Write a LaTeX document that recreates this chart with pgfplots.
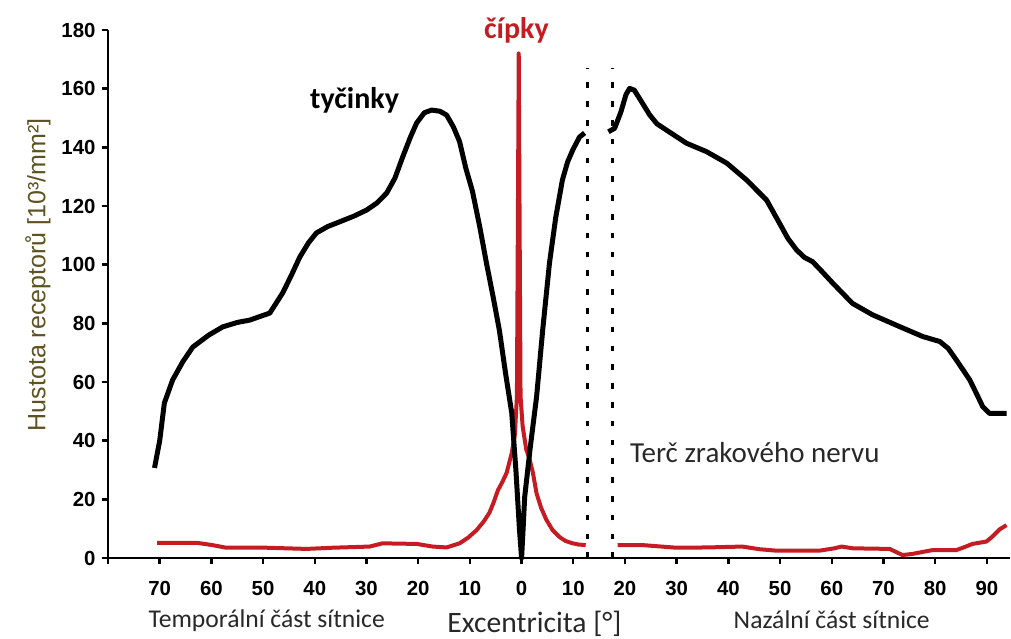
\documentclass[border=0pt]{standalone}
\usepackage{pgfplots}
\pgfplotsset{compat=1.18}
\usepackage{fontspec}
\setmainfont{Liberation Sans}
\newfontfamily\calib{Carlito}
\definecolor{conered}{RGB}{196,28,34}
\definecolor{ylab}{RGB}{92,82,34}
\definecolor{txtgray}{RGB}{40,40,40}
\begin{document}
\begin{tikzpicture}
\path[use as bounding box] (-54pt,-40pt) rectangle (451.5pt,279pt);
\begin{axis}[
  scale only axis,
  width=450.8pt, height=264pt,
  xmin=-80, xmax=94.4, ymin=0, ymax=180,
  axis x line*=bottom, axis y line*=left,
  axis line style={-, line width=1.3pt},
  xtick={-80,-70,...,90},
  xticklabels={,70,60,50,40,30,20,10,0,10,20,30,40,50,60,70,80,90},
  ytick={0,20,...,180},
  tick align=outside,
  major tick length=3.2pt,
  tick style={line width=1.2pt, black},
  /pgf/number format/assume math mode=true,
  ticklabel style={font=\bfseries\fontsize{10.2}{12}\selectfont},
  xticklabel style={yshift=-7.2pt, inner ysep=1pt},
  yticklabel style={xshift=0.5pt},
  clip=false,
]
% cones (red)
\addplot[conered, line width=2pt, line join=round] coordinates {
(-70.5,5.2) (-62.9,5.2) (-59.8,4.4) (-57.1,3.5) (-49.3,3.5) (-41.6,3.1) (-36.6,3.5) (-29.4,3.9) (-26.9,5.0) (-20.3,4.8) (-17.2,3.9) (-14.5,3.6) (-12.0,5.0) (-10.3,7) (-8.7,9.5) (-7.3,12.5) (-6.2,15.5) (-5.4,19) (-4.6,23) (-3.7,26) (-2.9,29) (-1.9,35.8) (-1.3,42) (-0.9,55) (-0.7,120) (-0.55,172) (-0.4,120) (-0.2,55) (0.2,45) (0.9,37) (1.5,34) (2.2,29) (2.9,22) (3.8,17) (4.8,13) (6,9.5) (7.3,7.2) (8.5,5.8) (9.9,5) (11,4.6) (12.4,4.4)
};
\addplot[conered, line width=2pt, line join=round] coordinates {
(18.6,4.4) (23.4,4.4) (30,3.5) (36,3.6) (42.7,3.9) (46,3.0) (49.3,2.5) (57.6,2.5) (60.5,3.3) (61.9,3.9) (64.1,3.3) (71.2,3.1) (72.5,2) (73.7,1.0) (75.6,1.4) (79.5,2.7) (84.1,2.7) (85.8,3.8) (87.2,4.8) (89.9,5.6) (91.2,7.5) (92.5,9.8) (93.8,11.2)
};
% rods (black)
\addplot[black, line width=2.5pt, line join=round] coordinates {
(-71.0,30.7) (-70.0,40) (-69.1,52.8) (-67.5,60.7) (-65.5,67) (-63.6,71.9) (-60.5,76) (-57.8,78.8) (-55,80.3) (-52.6,81.1) (-48.7,83.5) (-46.2,90.4) (-44.5,96.5) (-42.9,102.6) (-41.2,107.5) (-39.7,110.8) (-37.5,113) (-35.2,114.6) (-32.5,116.5) (-30.0,118.6) (-28,121) (-26.1,124.4) (-24.5,129.5) (-23.0,136.7) (-21.5,143.5) (-20.3,148.3) (-18.8,151.8) (-17.4,152.7) (-15.8,152.3) (-14.5,151.0) (-13.2,147) (-12.0,142) (-10.8,133) (-9.5,125) (-8.1,113) (-6.8,100.6) (-5.5,89) (-4.3,77.7) (-3.1,63) (-1.9,49.4) (-1.1,30) (-0.4,9.5) (0,0) (0.3,10) (0.6,20.8) (1.7,38) (2.9,54.9) (4.1,78) (5.4,100.6) (6.6,116) (7.9,128.9) (8.9,135) (9.9,139.1) (11.2,143.5) (12.2,144.9)
};
\addplot[black, line width=2.5pt, line join=round] coordinates {
(16.8,145.3) (18,146.5) (19.2,152) (20.2,158) (20.9,160.1) (21.8,159.5) (22.8,156.7) (24.8,151) (26.2,148) (28,145.9) (31.9,141.4) (35.8,138.5) (39.7,134.6) (43.5,128.9) (47.4,122) (49.9,114.1) (51.5,109) (53.2,105) (54.7,102.5) (56.3,101) (58.2,97.5) (60.2,93.7) (64.0,86.8) (67.9,82.9) (73.1,78.9) (77.6,75.5) (80.9,73.8) (82.5,71.5) (84.1,67.5) (86.7,60.7) (88,56) (89.2,51.6) (90.5,49.3) (93.8,49.3)
};
% optic disc
\addplot[black, line width=1.4pt, dash pattern=on 2.8pt off 6.6pt] coordinates {(12.8,0) (12.8,167)};
\addplot[black, line width=1.4pt, dash pattern=on 2.8pt off 6.6pt] coordinates {(17.6,0) (17.6,167)};
% texts
\node[font=\calib\bfseries\fontsize{15}{18}\selectfont] at (axis cs:-32.3,156) {tyčinky};
\node[font=\calib\bfseries\fontsize{15}{18}\selectfont, text=conered] at (axis cs:-1,180) {čípky};
\node[font=\calib\fontsize{14.5}{17}\selectfont, text=txtgray, anchor=west, inner sep=0pt] at (axis cs:20.9,36.1) {Terč zrakového nervu};
\node[font=\calib\fontsize{12.8}{15}\selectfont, text=txtgray, inner sep=1pt] at (axis cs:-49.3,-21.2) {Temporální část sítnice};
\node[font=\calib\fontsize{12.8}{15}\selectfont, text=txtgray, inner sep=1pt] at (axis cs:60,-21.2) {Nazální část sítnice};
\node[font=\calib\fontsize{14.8}{17}\selectfont, text=txtgray, inner sep=1pt] at (axis cs:2.5,-22.6) {Excentricita [°]};
\node[font=\fontsize{12.5}{15}\selectfont, text=ylab, rotate=90] at (axis cs:-80,96.5) [xshift=0pt, yshift=35pt] {Hustota receptorů [10³/mm²]};
\end{axis}
\end{tikzpicture}
\end{document}
